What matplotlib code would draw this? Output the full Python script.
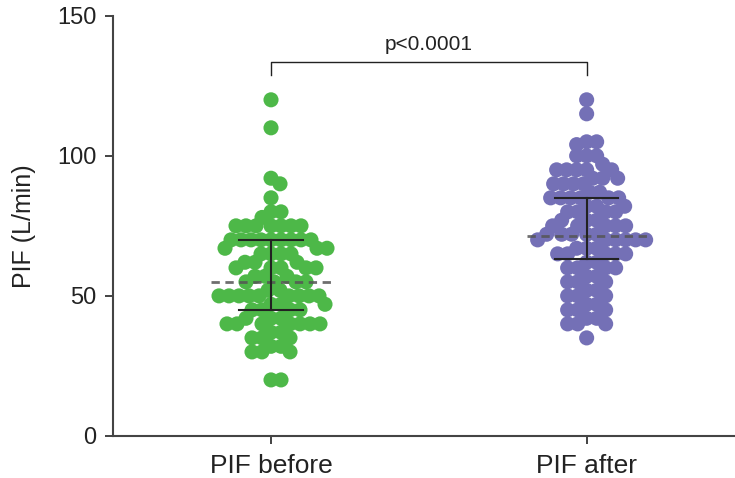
import numpy as np
import matplotlib
matplotlib.use('Agg')
from matplotlib import pyplot as plt

plt.rcParams['font.family'] = ['Liberation Sans', 'DejaVu Sans']

# data (value -> number of dots)
groups = ['PIF before', 'PIF after']
before_vals = [120, 110, 92, 90, 85, 80, 78, 75, 70, 67, 65, 62, 60, 57, 55, 52, 50, 47, 45, 42, 40, 37, 35, 32, 30, 20]
before_cnt = [1, 1, 1, 1, 1, 2, 1, 7, 9, 3, 4, 3, 5, 3, 4, 2, 9, 3, 4, 3, 7, 2, 3, 2, 3, 2]
after_vals = [120, 115, 105, 104, 100, 97, 95, 92, 90, 87, 85, 82, 80, 77, 75, 72, 70, 67, 65, 62, 60, 57, 55, 52, 50, 47, 45, 42, 40, 35]
after_cnt = [1, 1, 2, 1, 3, 1, 5, 3, 4, 2, 6, 3, 4, 3, 5, 5, 6, 3, 5, 2, 4, 2, 3, 2, 3, 2, 3, 2, 3, 1]
medians = [55, 71.5]
q1 = [45, 63]
q3 = [70, 85]
p_text = 'p<0.0001'

colors = ['#4DB848', '#7470B6']

fig = plt.figure(figsize=(7.35, 4.78), dpi=100)
ax = fig.add_axes([0.154, 0.088, 0.846, 0.879])
ax.set_xlim(-0.5, 1.47)
ax.set_ylim(0, 150)

# pixel scale of the axes, used to spread the dots sideways
ppx = 0.846 * 735 / 1.97
ppy = 0.879 * 478 / 150


def swarm(vals, center, mind=9.8):
    placed = []
    xs = []
    for v in vals:
        y = v * ppy
        off = 0
        k = 0
        while True:
            ok = all((off - px) ** 2 + (y - py) ** 2 >= mind ** 2 for px, py in placed)
            if ok:
                break
            k += 1
            off = (k + 1) // 2 * (1 if k % 2 else -1)
        placed.append((off, y))
        xs.append(center + off / ppx)
    return xs


data = [np.repeat(before_vals, before_cnt), np.repeat(after_vals, after_cnt)]
for i, vals in enumerate(data):
    vals = np.sort(vals)[::-1]
    xs = swarm(vals, i)
    ax.scatter(xs, vals, s=118, color=colors[i], edgecolors='none', zorder=2)
    # median (dashed) and interquartile bar
    ax.plot([i - 0.19, i + 0.19], [medians[i]] * 2, ls=(0, (3, 2)), color='#555555', lw=2, alpha=0.85, zorder=3)
    ax.plot([i, i], [q1[i], q3[i]], color='#222222', lw=1.5, zorder=4)
    ax.plot([i - 0.1, i + 0.1], [q1[i]] * 2, color='#222222', lw=1.5, zorder=4)
    ax.plot([i - 0.1, i + 0.1], [q3[i]] * 2, color='#222222', lw=1.5, zorder=4)

# significance bracket
ax.plot([0, 0, 1, 1], [129, 133.5, 133.5, 129], color='#222222', lw=1, clip_on=False)
ax.text(0.5, 136.5, p_text, ha='center', va='bottom', fontsize=15, color='#222222')

ax.set_xticks([0, 1])
ax.set_xticklabels(groups)
ax.set_yticks([0, 50, 100, 150])
ax.set_ylabel('PIF (L/min)', fontsize=18, color='#222222', labelpad=15)
ax.tick_params(axis='y', labelsize=17, colors='#222222', length=6, width=1.2, pad=6)
ax.tick_params(axis='x', labelsize=19, colors='#222222', length=6, width=1.2, pad=7)
for s in ['top', 'right']:
    ax.spines[s].set_visible(False)
for s in ['left', 'bottom']:
    ax.spines[s].set_linewidth(1.5)
    ax.spines[s].set_color('#444444')

plt.savefig('out.png', dpi=100)
